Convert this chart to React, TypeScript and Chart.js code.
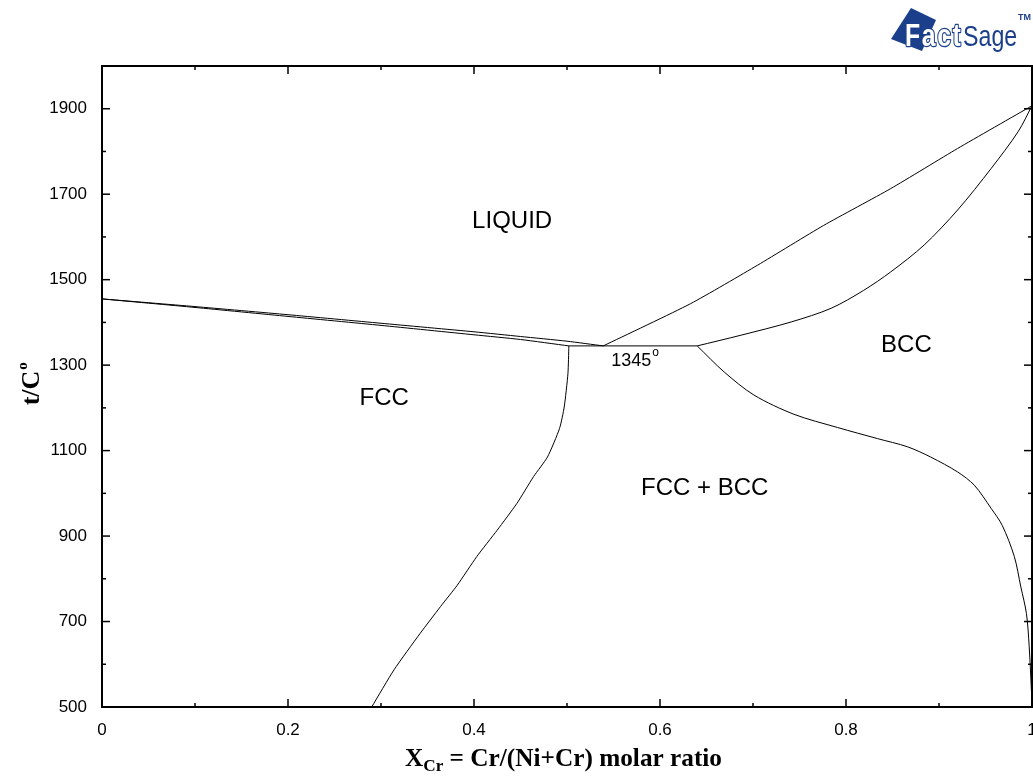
import React, { useEffect, useRef } from 'react';
import { Chart, registerables } from 'chart.js';

Chart.register(...registerables);

// Liquidus, Ni-rich side (FCC + liquid region upper boundary)
const liquidusNiX = [0, 0.1, 0.2, 0.3, 0.4, 0.45, 0.5, 0.539];
const liquidusNiT = [1455, 1437, 1418, 1398, 1378, 1367, 1356, 1345];
// Solidus, FCC
const solidusNiX = [0, 0.1, 0.2, 0.3, 0.4, 0.45, 0.502];
const solidusNiT = [1455, 1435, 1414, 1393, 1371, 1360, 1345];
// Liquidus, Cr-rich side
const liquidusCrX = [0.539, 0.633, 0.705, 0.776, 0.848, 0.92, 1.0];
const liquidusCrT = [1345, 1444, 1534, 1627, 1713, 1807, 1907];
// Solidus, BCC
const solidusCrX = [0.64, 0.687, 0.741, 0.784, 0.819, 0.848, 0.884, 0.92, 0.956, 0.985, 1.0];
const solidusCrT = [1345, 1370, 1401, 1433, 1475, 1518, 1581, 1663, 1760, 1846, 1907];
// FCC solvus
const fccSolvusX = [0.502, 0.501, 0.497, 0.492, 0.479, 0.464, 0.446, 0.425, 0.403, 0.382, 0.364, 0.342, 0.314, 0.29];
const fccSolvusT = [1345, 1280, 1202, 1152, 1085, 1039, 976, 914, 852, 785, 735, 672, 587, 500];
// BCC solvus
const bccSolvusX = [0.64, 0.669, 0.701, 0.744, 0.791, 0.834, 0.866, 0.891, 0.92, 0.938, 0.956, 0.968, 0.981, 0.988, 0.994, 0.997, 0.9995, 1.0];
const bccSolvusT = [1345, 1284, 1230, 1185, 1154, 1128, 1109, 1085, 1050, 1019, 965, 925, 852, 781, 719, 641, 532, 500];
// Eutectic line
const eutecticX = [0.502, 0.64];
const eutecticT = [1345, 1345];

// Region labels
const regionLabels = ['LIQUID', 'FCC', 'BCC', 'FCC + BCC'];
const regionLabelX = [0.441, 0.3035, 0.865, 0.648];
const regionLabelT = [1636, 1223, 1347, 1011];
const eutecticLabel = '1345';
const eutecticLabelX = 0.569;
const eutecticLabelT = 1309;

const xAxisMin = 0;
const xAxisMax = 1;
const yAxisMin = 500;
const yAxisMax = 2000;

const SANS = '"Liberation Sans", Arial, sans-serif';
const SERIF = '"Liberation Serif", "Times New Roman", serif';

const isMajorX = (v: number) => Math.round(v * 10) % 2 === 0;
const isMajorY = (v: number) => Math.round(v) % 200 === 100;

export default function App() {
  const ref = useRef<HTMLCanvasElement>(null);

  useEffect(() => {
    const canvas = ref.current!;
    const pts = (xs: number[], ts: number[]) => xs.map((x, i) => ({ x, y: ts[i] }));
    const line = (label: string, xs: number[], ts: number[], tension = 0) => ({
      label,
      data: pts(xs, ts),
      showLine: true,
      borderColor: '#000',
      borderWidth: 1,
      pointRadius: 0,
      fill: false,
      tension,
    });

    const decor = {
      id: 'decor',
      afterDraw(chart: any) {
        const { ctx, chartArea } = chart;
        const { left, right, top, bottom } = chartArea;
        const xs = chart.scales.x;
        const ys = chart.scales.y;
        ctx.save();
        ctx.strokeStyle = '#000';
        ctx.lineWidth = 2;
        ctx.strokeRect(left, top, right - left, bottom - top);
        ctx.lineWidth = 1.5;
        const seg = (x1: number, y1: number, x2: number, y2: number) => {
          ctx.beginPath();
          ctx.moveTo(x1, y1);
          ctx.lineTo(x2, y2);
          ctx.stroke();
        };
        xs.ticks.forEach((t: any) => {
          const px = xs.getPixelForValue(t.value);
          const len = isMajorX(t.value) ? 8 : 4;
          seg(px, bottom, px, bottom - len);
          seg(px, top, px, top + len);
        });
        ys.ticks.forEach((t: any) => {
          const py = ys.getPixelForValue(t.value);
          const len = isMajorY(t.value) ? 8 : 4;
          seg(left, py, left + len, py);
          seg(right, py, right - len, py);
        });

        // Region labels
        ctx.fillStyle = '#000';
        ctx.textAlign = 'center';
        ctx.textBaseline = 'middle';
        ctx.font = `24px ${SANS}`;
        regionLabels.forEach((s, i) => {
          ctx.fillText(s, xs.getPixelForValue(regionLabelX[i]), ys.getPixelForValue(regionLabelT[i]));
        });
        // Eutectic temperature label
        ctx.font = `18px ${SANS}`;
        const ex = xs.getPixelForValue(eutecticLabelX);
        const ey = ys.getPixelForValue(eutecticLabelT);
        const ew = ctx.measureText(eutecticLabel).width;
        ctx.fillText(eutecticLabel, ex, ey);
        ctx.font = `12px ${SANS}`;
        ctx.textAlign = 'left';
        ctx.fillText('o', ex + ew / 2 + 1, ey - 9);

        // X axis title
        ctx.textBaseline = 'alphabetic';
        ctx.textAlign = 'left';
        const big = `bold 25px ${SERIF}`;
        const small = `bold 17px ${SERIF}`;
        const p1 = 'X';
        const p2 = 'Cr';
        const p3 = ' = Cr/(Ni+Cr) molar ratio';
        ctx.font = big;
        const w1 = ctx.measureText(p1).width;
        const w3 = ctx.measureText(p3).width;
        ctx.font = small;
        const w2 = ctx.measureText(p2).width;
        const total = w1 + w2 + w3;
        let tx = 405;
        const scaleX = (722 - 405) / total;
        const base = 766;
        ctx.save();
        ctx.translate(tx, base);
        ctx.scale(scaleX, 1);
        tx = 0;
        ctx.font = big;
        ctx.fillText(p1, tx, 0);
        tx += w1;
        ctx.font = small;
        ctx.fillText(p2, tx, 5);
        tx += w2;
        ctx.font = big;
        ctx.fillText(p3, tx, 0);
        ctx.restore();

        // Y axis title
        ctx.save();
        ctx.translate(39, 388);
        ctx.rotate(-Math.PI / 2);
        ctx.font = `bold 26px ${SERIF}`;
        const yt = 't/C';
        const yw = ctx.measureText(yt).width;
        ctx.fillText(yt, -yw / 2, 0);
        ctx.font = `bold 15px ${SERIF}`;
        ctx.fillText('o', yw / 2 + 1, -12);
        ctx.restore();

        // FactSage logo
        const blue = '#1b3f8b';
        ctx.fillStyle = blue;
        ctx.beginPath();
        ctx.moveTo(911, 8);
        ctx.lineTo(936, 20);
        ctx.lineTo(922, 51);
        ctx.lineTo(891, 39);
        ctx.closePath();
        ctx.fill();
        ctx.save();
        ctx.translate(905, 46);
        ctx.scale(0.8, 1);
        ctx.font = `bold 31px ${SANS}`;
        ctx.lineWidth = 2.5;
        ctx.strokeStyle = blue;
        ctx.lineJoin = 'round';
        let lx = 0;
        for (const ch of 'Fact') {
          ctx.fillStyle = '#fff';
          ctx.strokeText(ch, lx, 0);
          ctx.fillText(ch, lx, 0);
          lx += ctx.measureText(ch).width + 2;
        }
        ctx.restore();
        ctx.save();
        ctx.translate(963, 46);
        ctx.scale(0.8, 1);
        ctx.font = `29px ${SANS}`;
        ctx.fillStyle = blue;
        ctx.fillText('Sage', 0, 0);
        ctx.restore();
        ctx.font = `bold 9px ${SANS}`;
        ctx.fillStyle = blue;
        ctx.fillText('TM', 1018, 20);

        ctx.restore();
      },
    };

    const chart = new Chart(canvas, {
      type: 'scatter',
      data: {
        datasets: [
          line('Liquidus (Ni side)', liquidusNiX, liquidusNiT, 0.2),
          line('Solidus FCC', solidusNiX, solidusNiT, 0.2),
          line('Liquidus (Cr side)', liquidusCrX, liquidusCrT, 0.2),
          line('Solidus BCC', solidusCrX, solidusCrT, 0.3),
          line('FCC solvus', fccSolvusX, fccSolvusT, 0.2),
          line('BCC solvus', bccSolvusX, bccSolvusT, 0.3),
          line('Eutectic', eutecticX, eutecticT),
        ] as any,
      },
      options: {
        animation: false,
        responsive: false,
        events: [],
        layout: { padding: { top: 66, right: 1, left: 0, bottom: 0 } },
        plugins: { legend: { display: false }, tooltip: { enabled: false }, title: { display: false } },
        scales: {
          x: {
            type: 'linear',
            min: xAxisMin,
            max: xAxisMax,
            grid: { display: false, drawTicks: false },
            border: { display: false },
            ticks: {
              stepSize: 0.1,
              autoSkip: false,
              maxRotation: 0,
              padding: 13,
              color: '#000',
              font: { family: SANS, size: 17 },
              callback: (v: any) => (isMajorX(Number(v)) ? String(Math.round(Number(v) * 10) / 10) : ''),
            },
            afterFit: (s: any) => {
              s.height = 71;
              s.paddingLeft = 0;
              s.paddingRight = 0;
            },
          },
          y: {
            type: 'linear',
            min: yAxisMin,
            max: yAxisMax,
            grid: { display: false, drawTicks: false },
            border: { display: false },
            ticks: {
              stepSize: 100,
              autoSkip: false,
              padding: 15,
              color: '#000',
              font: { family: SANS, size: 17 },
              callback: (v: any) => (isMajorY(Number(v)) ? String(v) : ''),
            },
            afterFit: (s: any) => {
              s.width = 102;
              s.paddingTop = 0;
              s.paddingBottom = 0;
            },
          },
        },
      } as any,
      plugins: [decor],
    });
    return () => chart.destroy();
  }, []);

  return (
    <div style={{ position: 'fixed', left: 0, top: 0, width: 1033, height: 778, background: '#fff' }}>
      <canvas ref={ref} width={1033} height={778} style={{ display: 'block' }} />
    </div>
  );
}
